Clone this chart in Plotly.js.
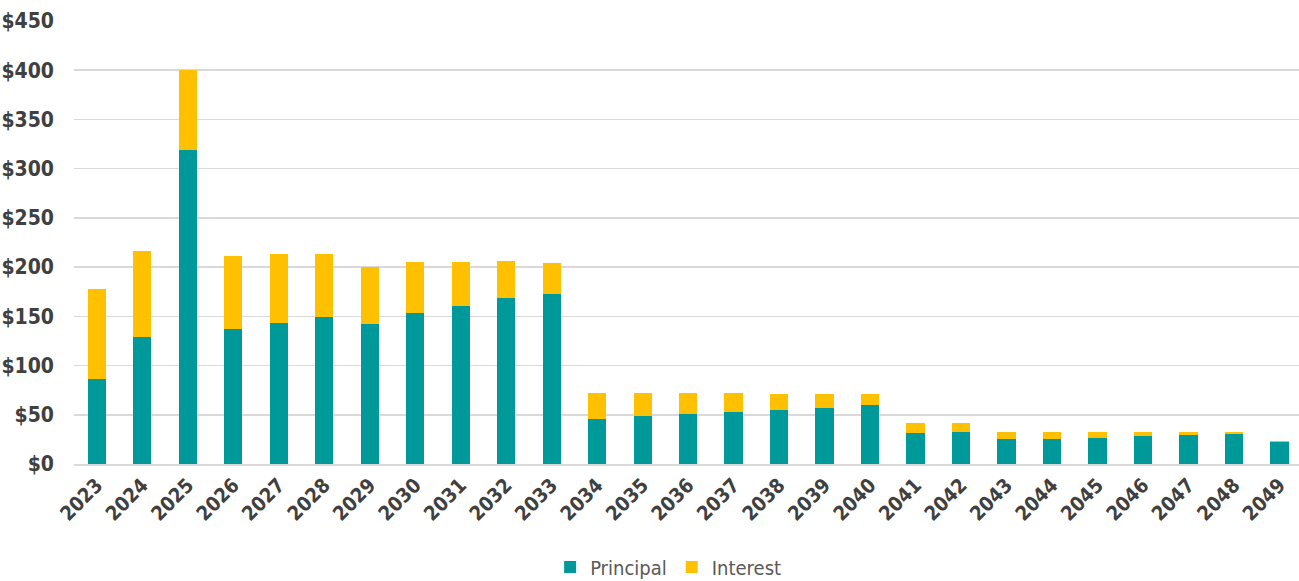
<!DOCTYPE html>
<html>
<head>
<meta charset="utf-8">
<script src="https://cdn.plot.ly/plotly-3.0.1.min.js"></script>
<style>html,body{margin:0;padding:0;background:#fff}#chart{width:1299px;height:581px}
#chart svg text{font-stretch:condensed !important;}</style>
</head>
<body>
<div id="chart"></div>
<script>
const years = ["2023","2024","2025","2026","2027","2028","2029","2030","2031","2032","2033","2034","2035","2036","2037","2038","2039","2040","2041","2042","2043","2044","2045","2046","2047","2048","2049"];
const principal = [86.8,129.3,318.6,137.5,143.5,149.3,142.5,153.7,160.8,168.2,173.0,45.9,49.0,51.0,53.0,55.0,57.0,60.0,31.7,33.0,24.9,25.9,26.9,28.2,29.2,30.6,22.5];
const total = [177.4,216.2,400.0,211.5,213.2,213.2,200.0,205.0,205.0,206.0,204.4,72.3,72.0,72.0,72.0,71.0,71.0,71.0,42.0,42.0,33.0,32.3,32.3,32.3,32.3,32.5,23.0];
const interest = total.map((t,i)=>+(t-principal[i]).toFixed(1));
const yTicks = [0,50,100,150,200,250,300,350,400,450];
const yTickText = yTicks.map(v=>"$"+v);

const font = "'DejaVu Sans Condensed', 'Liberation Sans Narrow', sans-serif";

const data = [
  {type:"bar", name:"Principal", x:years, y:principal, marker:{color:"#009999"}},
  {type:"bar", name:"Interest", x:years, y:interest, marker:{color:"#FFC000"}}
];
const layout = {
  width:1299, height:581,
  barmode:"stack", bargap:0.6,
  margin:{l:74, r:0, t:21, b:117, autoexpand:false},
  paper_bgcolor:"#fff", plot_bgcolor:"#fff",
  font:{family:font, color:"#404040"},
  showlegend:true,
  legend:{orientation:"h", x:0.485, xanchor:"center", yref:"container", y:0.024, yanchor:"middle",
    font:{family:font, size:20, color:"#595959"}, itemwidth:30, traceorder:"normal"},
  xaxis:{type:"category", range:[-0.5, 26.43], tickangle:-45, automargin:false,
    tickfont:{family:font, size:20, color:"#404040", weight:"bold"},
    showgrid:false, showline:true, linecolor:"#d9d9d9", linewidth:1.5, ticks:""},
  yaxis:{range:[0,450], tickvals:yTicks, ticktext:yTickText, automargin:false,
    tickfont:{family:font, size:21, color:"#404040", weight:"bold"},
    showgrid:true, gridcolor:"#d9d9d9", gridwidth:1.5, zeroline:false,
    showline:false, ticks:"", ticklabelstandoff:19}
};
Plotly.newPlot("chart", data, layout, {displayModeBar:false, staticPlot:true});
</script>
</body>
</html>
